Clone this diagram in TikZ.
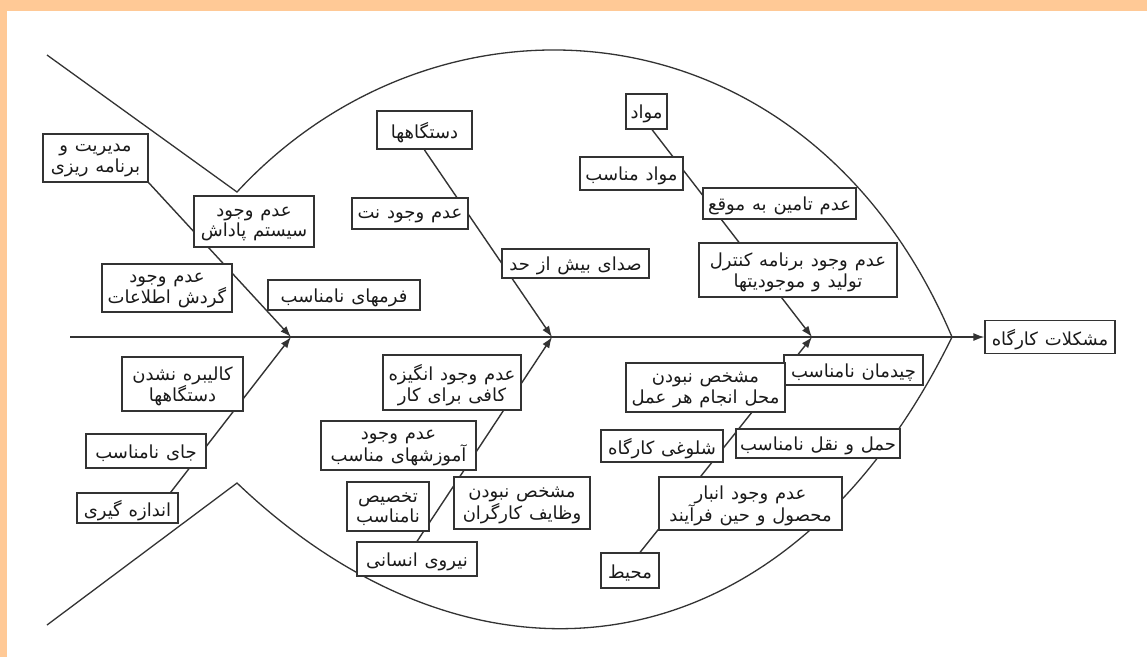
\documentclass[tikz,border=0pt]{standalone}
\usepackage{fontspec}
\newfontfamily\fa[Script=Arabic, WordSpace=1.2]{DejaVu Sans}
\TeXXeTstate=1
\usetikzlibrary{arrows.meta}
% one right-to-left line, lowered a little so the Arabic glyphs sit centred
\newcommand\rl[1]{\raisebox{-2.5pt}[\height][\depth]{\beginR #1\endR}}

\definecolor{ink}{HTML}{333333}
\definecolor{txt}{HTML}{1A1A1A}
\definecolor{frame}{RGB}{255,201,150}

\pgfdeclarelayer{bg}
\pgfsetlayers{bg,main}

\begin{document}
\begin{tikzpicture}[x=1pt,y=-1pt,
  box/.style={draw=ink, line width=1.2pt, fill=white, text=txt,
    font=\fontsize{18}{20.5}\selectfont\fa, align=center, inner sep=1pt},
  headbox/.style={box, line width=2pt},
  bone/.style={draw=ink, line width=1.4pt, -{Latex[length=11pt,width=8pt]}},
  outline/.style={draw=ink, line width=1.3pt},
]
\useasboundingbox (0,0) rectangle (1147,657);

% junctions on the spine
\coordinate (tail) at (70,337);
\coordinate (J1) at (291,337);
\coordinate (J2) at (552,337);
\coordinate (J3) at (812,337);
\coordinate (nose) at (952,337);
\coordinate (topV) at (237,192);
\coordinate (botV) at (237,483);
\coordinate (topT) at (47,55);
\coordinate (botT) at (47,625);

% effect
\node[box, minimum width=130, minimum height=33] (effect) at (1050,337) {\rl{مشکلات کارگاه}};

% management branch
\node[box, minimum width=105, minimum height=48] (mgmt) at (95.5,158) {\rl{مدیریت و}\\\rl{برنامه ریزی}};
\node[box, minimum width=120, minimum height=51] (reward) at (254,221.5) {\rl{عدم وجود}\\\rl{سیستم پاداش}};
\node[box, minimum width=130, minimum height=48] (info) at (167,288) {\rl{عدم وجود}\\\rl{گردش اطلاعات}};
\node[box, minimum width=152, minimum height=30] (forms) at (344,295) {\rl{فرمهای نامناسب}};

% machines branch
\node[headbox, minimum width=95, minimum height=38] (mach) at (424.5,130) {\rl{دستگاهها}};
\node[box, minimum width=116, minimum height=31] (nomaint) at (410,213.5) {\rl{عدم وجود نت}};
\node[box, minimum width=147, minimum height=29] (noise) at (575.5,263.5) {\rl{صدای بیش از حد}};

% materials branch
\node[box, minimum width=41, minimum height=35] (mat) at (646.5,111.5) {\rl{مواد}};
\node[box, minimum width=103, minimum height=33] (matsuit) at (631.5,173.5) {\rl{مواد مناسب}};
\node[box, minimum width=153, minimum height=31] (supply) at (779.5,203.5) {\rl{عدم تامین به موقع}};
\node[box, minimum width=198, minimum height=54] (plan) at (798,270) {\rl{عدم وجود برنامه کنترل}\\\rl{تولید و موجودیتها}};

% measurement branch
\node[box, minimum width=121, minimum height=54] (calib) at (182.5,384) {\rl{کالیبره نشدن}\\\rl{دستگاهها}};
\node[box, minimum width=120, minimum height=34] (place) at (146,451) {\rl{جای نامناسب}};
\node[box, minimum width=101, minimum height=30] (measure) at (127.5,508) {\rl{اندازه گیری}};

% manpower branch
\node[box, minimum width=138, minimum height=55] (motiv) at (452,382.5) {\rl{عدم وجود انگیزه}\\\rl{کافی برای کار}};
\node[box, minimum width=155, minimum height=49] (train) at (398.5,445.5) {\rl{عدم وجود}\\\rl{آموزشهای مناسب}};
\node[box, minimum width=82, minimum height=49] (alloc) at (388,506.5) {\rl{تخصیص}\\\rl{نامناسب}};
\node[box, minimum width=136, minimum height=52] (duties) at (522,503) {\rl{مشخص نبودن}\\\rl{وظایف کارگران}};
\node[box, minimum width=120, minimum height=34] (human) at (417,559) {\rl{نیروی انسانی}};

% environment branch
\node[box, minimum width=139, minimum height=30] (layout) at (853.5,370) {\rl{چیدمان نامناسب}};
\node[box, minimum width=159, minimum height=49] (where) at (705.5,387.5) {\rl{مشخص نبودن}\\\rl{محل انجام هر عمل}};
\node[box, minimum width=122, minimum height=32] (crowd) at (662,446) {\rl{شلوغی کارگاه}};
\node[box, minimum width=164, minimum height=29] (transp) at (818,443.5) {\rl{حمل و نقل نامناسب}};
\node[box, minimum width=183, minimum height=53] (store) at (750.5,503.5) {\rl{عدم وجود انبار}\\\rl{محصول و حین فرآیند}};
\node[box, minimum width=58, minimum height=35] (envir) at (630,570.5) {\rl{محیط}};

\begin{pgfonlayer}{bg}
  % page and coloured frame
  \fill[white] (0,0) rectangle (1147,657);
  \fill[frame] (0,0) rectangle (1147,11);
  \fill[frame] (0,0) rectangle (7,657);
  % fish outline
  \draw[outline] (topT) -- (topV) .. controls (440.7,-28.2) and (808.5,-1.6) .. (nose);
  \draw[outline] (botT) -- (botV) .. controls (476,711) and (785,678) .. (nose);
  % spine
  \draw[bone] (tail) -- (effect.west);
  % branches
  \draw[bone] (mgmt.south east) -- (J1);
  \draw[bone] ([xshift=-8]measure.north east) -- (J1);
  \draw[bone] (mach.south) -- (J2);
  \draw[bone] (human.north) -- (J2);
  \draw[bone] ([xshift=5.5]mat.south) -- (J3);
  \draw[bone] ([xshift=10]envir.north) -- (J3);
\end{pgfonlayer}
\end{tikzpicture}
\end{document}
